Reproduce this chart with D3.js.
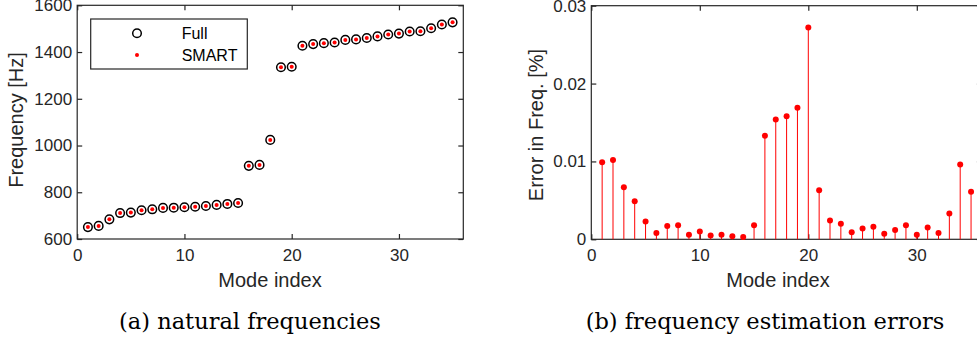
<!DOCTYPE html>
<html>
<head>
<meta charset="utf-8">
<script src="https://cdn.jsdelivr.net/npm/d3@7"></script>
<style>
  body { margin: 0; background: #fff; }
  svg { display: block; }
  .tick text { font-family: "Liberation Sans", Arial, sans-serif; font-size: 17px; fill: #262626; }
  .lab { font-family: "Liberation Sans", Arial, sans-serif; font-size: 20px; fill: #262626; }
  .cap { font-family: "DejaVu Serif", "Liberation Serif", serif; font-size: 22.5px; fill: #000; }
</style>
</head>
<body>
<svg id="chart" width="977" height="339"></svg>
<script>
// mode numbers 1..35
var modes = d3.range(1, 36);

// natural frequencies [Hz], full model vs SMART (practically identical)
var freqFull = [651, 656, 684, 711, 713, 723, 727, 733, 734, 736,
                738, 741, 746, 750, 754, 913, 917, 1024, 1335, 1337,
                1427, 1434, 1438, 1441, 1452, 1454, 1460, 1467, 1475, 1479,
                1488, 1489, 1502, 1518, 1527];
var freqSmart = freqFull.slice();

// relative error in frequency [%]
var freqErr = [0.0099, 0.0102, 0.0067, 0.0049, 0.0023, 0.0008, 0.0017, 0.0018, 0.0006, 0.0010,
               0.0005, 0.0006, 0.0004, 0.0003, 0.0018, 0.0133, 0.0154, 0.0158, 0.0169, 0.0272,
               0.0063, 0.0024, 0.0020, 0.0009, 0.0014, 0.0016, 0.0007, 0.0012, 0.0018, 0.0006,
               0.0015, 0.0008, 0.0033, 0.0096, 0.0061];

var xTicks = [0, 10, 20, 30];
var yTicksA = [600, 800, 1000, 1200, 1400, 1600];
var yTicksB = [0, 0.01, 0.02, 0.03];
var legendLabels = ["Full", "SMART"];
var captions = ["(a) natural frequencies", "(b) frequency estimation errors"];

var axisCol = "#262626";
var svg = d3.select("#chart");

function panel(left, right, top, bottom, yDomain, yTicks, yFmt) {
  var x = d3.scaleLinear().domain([0, 36]).range([left, right]);
  var y = d3.scaleLinear().domain(yDomain).range([bottom, top]);
  var g = svg.append("g");

  // box
  g.append("rect")
    .attr("x", left).attr("y", top)
    .attr("width", right - left).attr("height", bottom - top)
    .attr("fill", "none").attr("stroke", axisCol).attr("stroke-width", 1.2);

  var bx = g.append("g").attr("transform", "translate(0," + bottom + ")")
    .call(d3.axisBottom(x).tickValues(xTicks).tickSize(-5).tickPadding(10).tickFormat(d3.format("d")));
  var tx = g.append("g").attr("transform", "translate(0," + top + ")")
    .call(d3.axisTop(x).tickValues(xTicks).tickSize(-5).tickFormat(""));
  var ly = g.append("g").attr("transform", "translate(" + left + ",0)")
    .call(d3.axisLeft(y).tickValues(yTicks).tickSize(-5).tickPadding(5).tickFormat(yFmt));
  var ry = g.append("g").attr("transform", "translate(" + right + ",0)")
    .call(d3.axisRight(y).tickValues(yTicks).tickSize(-5).tickFormat(""));
  [bx, tx, ly, ry].forEach(function(a) {
    a.select(".domain").remove();
    a.selectAll(".tick line").attr("stroke", axisCol).attr("stroke-width", 1.2);
    a.selectAll("text").attr("font-family", null).attr("font-size", null);
  });
  return { g: g, x: x, y: y };
}

// ---- (a) natural frequencies
var A = panel(77.2, 463.3, 5.3, 239, [600, 1600], yTicksA, d3.format("d"));

A.g.selectAll("circle.full").data(modes).enter().append("circle")
  .attr("class", "full")
  .attr("cx", function(d) { return A.x(d); })
  .attr("cy", function(d, i) { return A.y(freqFull[i]); })
  .attr("r", 4.3)
  .attr("fill", "none").attr("stroke", "#000").attr("stroke-width", 1.5);
A.g.selectAll("circle.smart").data(modes).enter().append("circle")
  .attr("class", "smart")
  .attr("cx", function(d) { return A.x(d); })
  .attr("cy", function(d, i) { return A.y(freqSmart[i]); })
  .attr("r", 2)
  .attr("fill", "#ff0000");

// legend
var leg = A.g.append("g");
leg.append("rect").attr("x", 90.7).attr("y", 19).attr("width", 156.6).attr("height", 50)
  .attr("fill", "#fff").attr("stroke", axisCol).attr("stroke-width", 1.2);
leg.append("circle").attr("cx", 137).attr("cy", 33.3).attr("r", 4.3)
  .attr("fill", "none").attr("stroke", "#000").attr("stroke-width", 1.5);
leg.append("circle").attr("cx", 137).attr("cy", 55).attr("r", 2).attr("fill", "#ff0000");
leg.selectAll("text").data(legendLabels).enter().append("text")
  .attr("x", 181.7)
  .attr("y", function(d, i) { return i === 0 ? 33.3 : 55; })
  .attr("dy", "0.35em")
  .attr("font-family", "Liberation Sans, Arial, sans-serif")
  .attr("font-size", 16).attr("fill", "#000")
  .text(function(d) { return d; });

A.g.append("text").attr("class", "lab")
  .attr("x", 270).attr("y", 287).attr("text-anchor", "middle").text("Mode index");
A.g.append("text").attr("class", "lab")
  .attr("transform", "translate(23,120) rotate(-90)")
  .attr("text-anchor", "middle").text("Frequency [Hz]");

// ---- (b) frequency estimation errors
var B = panel(591.3, 591.3 + 36 * 10.85, 5.7, 239.3, [0, 0.03], yTicksB, function(d) { return d === 0 ? "0" : d3.format(".2f")(d); });

B.g.selectAll("line.stem").data(modes).enter().append("line")
  .attr("class", "stem")
  .attr("x1", function(d) { return B.x(d); })
  .attr("x2", function(d) { return B.x(d); })
  .attr("y1", B.y(0))
  .attr("y2", function(d, i) { return B.y(freqErr[i]); })
  .attr("stroke", "#ff0000").attr("stroke-width", 1);
B.g.selectAll("circle.head").data(modes).enter().append("circle")
  .attr("class", "head")
  .attr("cx", function(d) { return B.x(d); })
  .attr("cy", function(d, i) { return B.y(freqErr[i]); })
  .attr("r", 3)
  .attr("fill", "#ff0000");

B.g.append("text").attr("class", "lab")
  .attr("x", 778).attr("y", 287).attr("text-anchor", "middle").text("Mode index");
B.g.append("text").attr("class", "lab")
  .attr("transform", "translate(543,125) rotate(-90)")
  .attr("text-anchor", "middle").text("Error in Freq. [%]");

// captions
svg.selectAll("text.cap").data(captions).enter().append("text")
  .attr("class", "cap")
  .attr("x", function(d, i) { return i === 0 ? 250 : 765; })
  .attr("y", 329)
  .attr("text-anchor", "middle")
  .text(function(d) { return d; });
</script>
</body>
</html>
